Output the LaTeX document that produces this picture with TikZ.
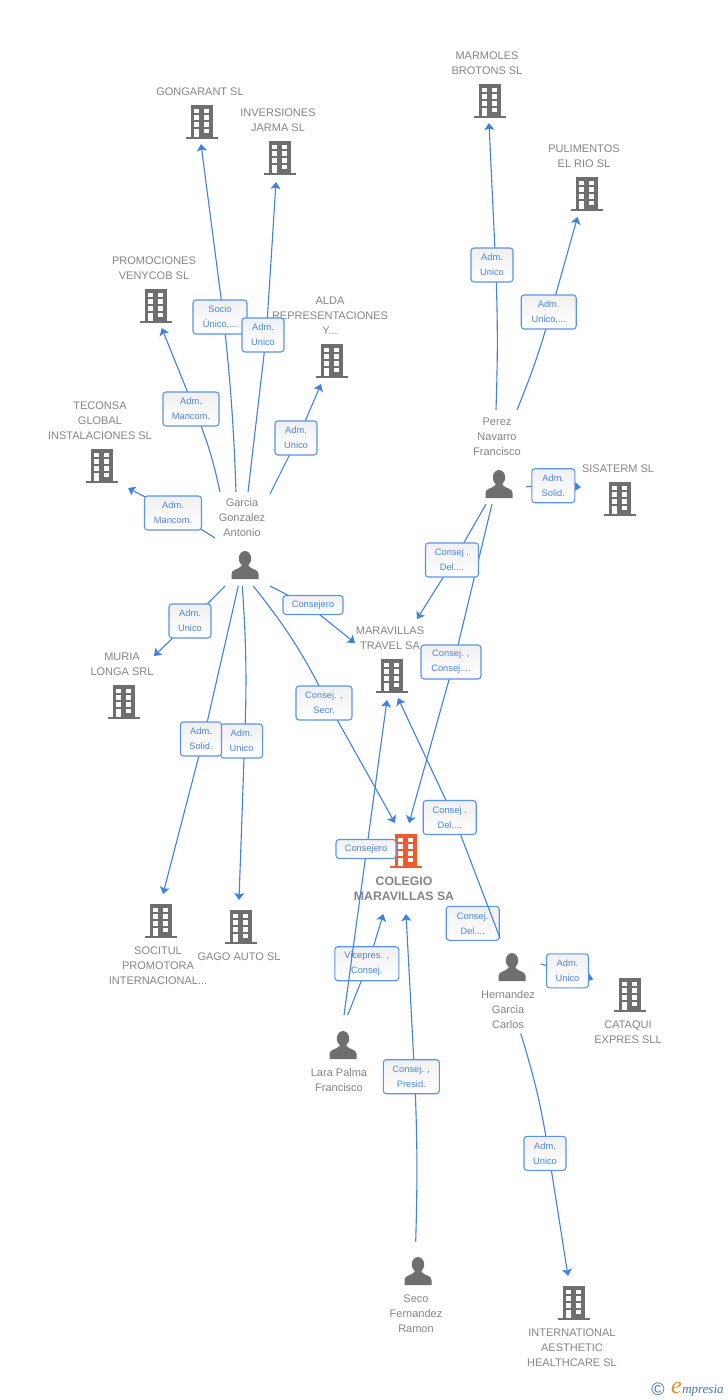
\documentclass[tikz,border=0pt]{standalone}
\usepackage{fontspec}
\setmainfont{Liberation Sans}
\newfontfamily\logofont{Liberation Serif}
\usetikzlibrary{arrows.meta,backgrounds}
\definecolor{linkblue}{HTML}{3F82E3}
\definecolor{boxblue}{HTML}{5A94EA}
\definecolor{boxtext}{HTML}{4A86DC}
\definecolor{icongrey}{HTML}{6F6F6F}
\definecolor{labelgrey}{HTML}{858585}
\definecolor{mainorange}{HTML}{F15A29}
\definecolor{logoteal}{HTML}{3E7C99}
\definecolor{logoorange}{HTML}{F28A1E}
\tikzset{
  bldg/.style={rectangle,inner sep=0pt,minimum width=32,minimum height=34,
    path picture={
      \fill[#1] (-11,-16.7) rectangle (11,15);
      \fill[#1] (-16,14.7) rectangle (16,16.7);
      \fill[white] (-7.7,-12.7) rectangle (-2.7,-8.7);
      \fill[white] (2.3,-12.7) rectangle (7.3,-8.7);
      \fill[white] (-7.7,-6.7) rectangle (-2.7,-2);
      \fill[white] (2.3,-6.7) rectangle (7.3,-2);
      \fill[white] (-7.7,0) rectangle (-2.7,4.7);
      \fill[white] (2.3,0) rectangle (7.3,4.7);
      \fill[white] (-7.7,6.7) rectangle (-2.7,14.7);
      \fill[white] (2.3,6.7) rectangle (7.3,11.3);
    }},
  persona/.style={rectangle,inner sep=0pt,minimum width=28,minimum height=28,
    path picture={
      \fill[icongrey] (0,-6.5) ellipse [x radius=6.2,y radius=7.5];
      \fill[icongrey] (-13.5,14) -- (-13.5,9) .. controls (-13.5,4) and (-7,5) .. (-3.5,1)
        -- (-3.5,-2) -- (3.5,-2) -- (3.5,1) .. controls (7,5) and (13.5,4) .. (13.5,9) -- (13.5,14) -- cycle;
    }},
  tag/.style={text=labelgrey,align=center,inner sep=0pt,font=\fontsize{11}{15}\selectfont},
  link/.style={draw=linkblue,line width=1.1pt,-{Stealth[length=7pt,width=10pt,inset=1.5pt]}},
  lbox/.style={draw=boxblue,line width=1.1pt,rounded corners=3pt,inner sep=0pt,minimum height=34,
    top color=black!6,bottom color=white,text=boxtext,align=center,
    font=\fontsize{9.3}{15}\selectfont},
}
\newcommand{\lnk}[8]{\draw[link] ([shift={(#2)}]#1.center) to[bend left=#7] ([shift={(#4)}]#3.center) to[bend left=#8] ([shift={(#6)}]#5.center);}
\begin{document}
\begin{tikzpicture}[x=1pt,y=-1pt]
\useasboundingbox (0,0) rectangle (728,1400);
% buildings
\node[bldg=icongrey] (gong) at (202,122) {};
\node[bldg=icongrey] (inver) at (280,158) {};
\node[bldg=icongrey] (promo) at (156,306) {};
\node[bldg=icongrey] (alda) at (332,361) {};
\node[bldg=icongrey] (tecon) at (102,466) {};
\node[bldg=icongrey] (muria) at (124,702) {};
\node[bldg=icongrey] (socit) at (161,921) {};
\node[bldg=icongrey] (gago) at (241,927) {};
\node[bldg=icongrey] (marm) at (490,101) {};
\node[bldg=icongrey] (pulim) at (587,194) {};
\node[bldg=icongrey] (sisa) at (620,499) {};
\node[bldg=icongrey] (travel) at (392,676) {};
\node[bldg=mainorange] (cole) at (406,851) {};
\node[bldg=icongrey] (cata) at (630,995) {};
\node[bldg=icongrey] (intl) at (574,1303) {};
% people
\node[persona] (garcia) at (245,565) {};
\node[persona] (perez) at (499,484) {};
\node[persona] (hern) at (512,967) {};
\node[persona] (lara) at (343,1045) {};
\node[persona] (seco) at (418,1271) {};
% names
\node[tag] (ngong) at (200,92) {GONGARANT SL};
\node[tag] (ninver) at (278,120.5) {INVERSIONES\\JARMA SL};
\node[tag] (npromo) at (154,268.5) {PROMOCIONES\\VENYCOB SL};
\node[tag] (nalda) at (330,316) {ALDA\\REPRESENTACIONES\\Y...};
\node[tag] (ntecon) at (100,421) {TECONSA\\GLOBAL\\INSTALACIONES SL};
\node[tag] (nmuria) at (122,664.5) {MURIA\\LONGA SRL};
\node[tag] (nsocit) at (158,966) {SOCITUL\\PROMOTORA\\INTERNACIONAL...};
\node[tag] (ngago) at (239,957) {GAGO AUTO SL};
\node[tag] (nmarm) at (487,63.5) {MARMOLES\\BROTONS SL};
\node[tag] (npulim) at (584,156.5) {PULIMENTOS\\EL RIO SL};
\node[tag] (nsisa) at (618,469) {SISATERM SL};
\node[tag] (ntravel) at (390,638.5) {MARAVILLAS\\TRAVEL SA};
\node[tag,font=\fontsize{12.3}{15}\selectfont\bfseries] (ncole) at (404,888.5) {COLEGIO\\MARAVILLAS SA};
\node[tag] (ncata) at (628,1032.5) {CATAQUI\\EXPRES SLL};
\node[tag] (nintl) at (572,1348) {INTERNATIONAL\\AESTHETIC\\HEALTHCARE SL};
\node[tag] (ngarcia) at (242,518) {Garcia\\Gonzalez\\Antonio};
\node[tag] (nperez) at (497,437) {Perez\\Navarro\\Francisco};
\node[tag] (nhern) at (508,1010) {Hernandez\\Garcia\\Carlos};
\node[tag] (nlara) at (339,1080.5) {Lara Palma\\Francisco};
\node[tag] (nseco) at (416,1314) {Seco\\Fernandez\\Ramon};
% label boxes
\node[lbox,minimum width=54] (b1) at (220,317) {Socio\\Único,...};
\node[lbox,minimum width=42] (b2) at (263,335) {Adm.\\Unico};
\node[lbox,minimum width=56] (b3) at (191,409) {Adm.\\Mancom.};
\node[lbox,minimum width=42] (b4) at (296,438) {Adm.\\Unico};
\node[lbox,minimum width=57] (b5) at (173,513) {Adm.\\Mancom.};
\node[lbox,minimum width=42] (b6) at (190,621) {Adm.\\Unico};
\node[lbox,minimum width=60,minimum height=19] (b7) at (313,605) {Consejero};
\node[lbox,minimum width=56] (b8) at (324,703) {Consej. ,\\Secr.};
\node[lbox,minimum width=42] (b10) at (241.6,741) {Adm.\\Unico};
\node[lbox,minimum width=41] (b9) at (201,739) {Adm.\\Solid.};
\node[lbox,minimum width=42] (b11) at (492,265) {Adm.\\Unico};
\node[lbox,minimum width=55] (b12) at (548.7,312) {Adm.\\Unico,...};
\node[lbox,minimum width=43] (b13) at (553.3,485.7) {Adm.\\Solid.};
\node[lbox,minimum width=53] (b14) at (452,560) {Consej .\\Del....};
\node[lbox,minimum width=60] (b15) at (451,662) {Consej. ,\\Consej....};
\node[lbox,minimum width=53] (b16) at (449.7,817.5) {Consej .\\Del....};
\node[lbox,minimum width=42] (b18) at (567.5,970.8) {Adm.\\Unico};
\node[lbox,minimum width=64] (b19) at (366.8,963.7) {Vicepres. ,\\Consej.};
\node[lbox,minimum width=56] (b20) at (411.3,1076.7) {Consej. ,\\Presid.};
\node[lbox,minimum width=42] (b21) at (545,1153.3) {Adm.\\Unico};
% connectors under the boxes
\begin{scope}[on background layer]
\fill[white] (0,0) rectangle (728,1400);
\node[lbox,minimum width=53] (b17) at (472.7,923.3) {Consej.\\Del....};
\lnk{garcia}{-9,-73}{b1}{3.5,0}{gong}{-1,22}{-2}{0}
\lnk{garcia}{3,-73}{b2}{3.3,0}{inver}{-4,24}{0}{0}
\lnk{garcia}{-25,-73}{b3}{3.4,0}{promo}{5.7,22}{-5}{0}
\lnk{garcia}{25,-71}{b4}{2,0}{alda}{-11,23}{0}{0}
\lnk{garcia}{-30,-27}{b5}{0,-1.5}{tecon}{26,22}{0}{0}
\lnk{garcia}{-20,21}{b6}{0.5,0}{muria}{30,-46}{0}{0}
\lnk{garcia}{25,21}{b7}{-4.5,0.7}{travel}{-37,-33}{0}{0}
\lnk{garcia}{8.3,21}{b8}{4.3,1}{cole}{-11,-28}{6}{0}
\lnk{garcia}{-6.7,21}{b9}{2.3,0}{socit}{2,-27}{0}{0}
\lnk{garcia}{-2.7,21}{b10}{3,1}{gago}{-2,-27}{3}{0}
\lnk{perez}{-3,-74}{b11}{3.7,0.8}{marm}{-1,22}{-2}{0}
\lnk{perez}{18,-74}{b12}{2,0.5}{pulim}{-9.5,23}{-3}{0}
\lnk{perez}{27,2.7}{b13}{0,0}{sisa}{-39,-12}{0}{0}
\lnk{perez}{-13,20}{b14}{1.8,0.5}{travel}{25,-57}{0}{0}
\lnk{perez}{-7,20}{b15}{2.7,1}{cole}{3,-28}{0}{0}
\lnk{hern}{-12,-29}{b16}{4.3,0}{travel}{6,22}{0}{0}
\lnk{hern}{28.7,-3}{b18}{0,0}{cata}{-36.7,-15.7}{0}{0}
\lnk{hern}{8.7,66.5}{b21}{3.7,0}{intl}{-6,-27}{4}{0}
\lnk{lara}{4.7,-30}{b19}{1.4,0}{cole}{-22.7,63}{0}{0}
\lnk{seco}{-2.3,-29.3}{b20}{3.4,0}{cole}{0,63}{-2}{0}
\end{scope}
% this one crosses over the Vicepres. box and under the Consejero box
\coordinate (cjpos) at (366,849);
\draw[link] ([shift={(1,-30)}]lara.center) -- ([shift={(-5,24)}]travel.center);
\node[lbox,minimum width=60,minimum height=19] (b22) at (cjpos) {Consejero};
% logo
\node[text=logoteal,inner sep=0pt,font=\fontsize{18}{18}\selectfont] (copy) at (658,1389) {©};
\node[anchor=base west,inner sep=0pt,font=\logofont\itshape\fontsize{24}{24}\selectfont,text=logoorange] (loge) at (671,1393) {e};
\node[anchor=base west,inner sep=0pt,font=\logofont\itshape\fontsize{13}{13}\selectfont,text=logoteal] (logm) at (loge.base east) {mpresia};
\end{tikzpicture}
\end{document}
